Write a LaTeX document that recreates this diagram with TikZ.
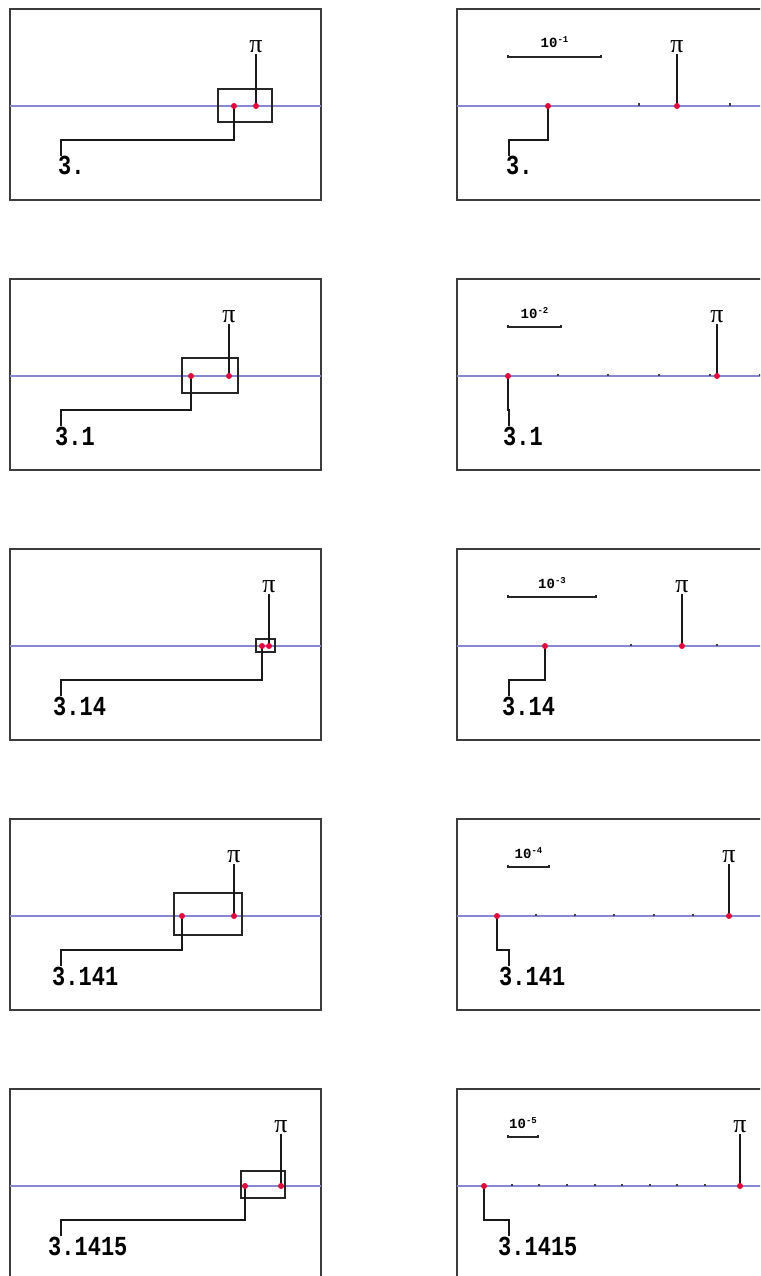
\documentclass[tikz,border=0pt]{standalone}
\usepackage{fontspec}
\usepackage{graphicx}
\newfontfamily\numfont{Liberation Mono}
\newfontfamily\greekfont{Liberation Serif}

\definecolor{framegray}{RGB}{60,60,60}
\definecolor{axisblue}{RGB}{135,135,210}
\definecolor{dotred}{RGB}{225,10,60}

\newcommand\tallnum[1]{\scalebox{1}[1.25]{#1}}

\tikzset{
  frame/.style={draw=framegray, line width=1.4pt},
  axis/.style={draw=axisblue, line width=1.3pt},
  zoombox/.style={draw=black!85, line width=1.4pt},
  leader/.style={draw=black!90, line width=1.3pt},
  dot/.style={circle, fill=dotred, inner sep=0pt, minimum size=6pt},
  tickmark/.style={draw=black!75, line width=1.2pt},
  scalebar/.style={draw=black!85, line width=1.3pt},
  pilab/.style={inner sep=1pt, font=\greekfont\fontsize{26}{26}\selectfont},
  numlab/.style={inner sep=0pt, anchor=base west, font=\numfont\bfseries\fontsize{22}{22}\selectfont},
  scalelab/.style={inner sep=0pt, anchor=base, font=\numfont\bfseries\fontsize{14}{14}\selectfont},
}

% left column: whole line with the zoom window around the two points
% #1 row, #2-#5 window corners, #6 approximation x, #7 pi x, #8 digits, #9 digits left x
\newcommand\drawleftpanel[9]{%
  \begin{scope}[yshift={-(#1-1)*270pt}]
    \draw[frame] (10,9) rectangle (321,200);
    \draw[axis] (10,106) -- (321,106);
    \draw[zoombox] (#2,#3) rectangle (#4,#5);
    \coordinate (La#1) at (#6,106);
    \coordinate (Lp#1) at (#7,106);
    \coordinate (Lk#1) at (61,140);
    \node[pilab] (Lpl#1) at (#7,47) {π};
    \node[numlab] (Ln#1) at (#9,175) {\tallnum{#8}};
    \draw[leader] (Lpl#1.south) -- (Lp#1);
    \draw[leader] (La#1) |- (Lk#1) -- (Lk#1 |- Ln#1.north);
    \node[dot] (Lda#1) at (La#1) {};
    \node[dot] (Ldp#1) at (Lp#1) {};
  \end{scope}}

% right column: magnified view with scale bar and ticks
% #1 row, #2 scale bar end x, #3 exponent, #4 approximation x, #5 pi x,
% #6 tick list, #7 digits, #8 digits left x
\newcommand\drawrightpanel[8]{%
  \begin{scope}[yshift={-(#1-1)*270pt}]
    \draw[frame] (457,9) rectangle (770,200);
    \draw[axis] (457,106) -- (770,106);
    \foreach \t in {#6} \draw[tickmark] (\t,103.5) -- (\t,106);
    \coordinate (Rb#1) at (508,57);
    \coordinate (Re#1) at (#2,57);
    \draw[scalebar] (508,55) -- (Rb#1) -- (Re#1) -- (#2,55);
    \node[scalelab] (Rs#1) at ({(508+#2)/2},48) {10\raisebox{5pt}{\fontsize{9}{9}\selectfont-#3}};
    \coordinate (Ra#1) at (#4,106);
    \coordinate (Rp#1) at (#5,106);
    \coordinate (Rk#1) at (509,140);
    \node[pilab] (Rpl#1) at (#5,47) {π};
    \node[numlab] (Rn#1) at (#8,175) {\tallnum{#7}};
    \draw[leader] (Rpl#1.south) -- (Rp#1);
    \draw[leader] (Ra#1) |- (Rk#1) -- (Rk#1 |- Rn#1.north);
    \node[dot] (Rda#1) at (Ra#1) {};
    \node[dot] (Rdp#1) at (Rp#1) {};
  \end{scope}}

\begin{document}
\begin{tikzpicture}[x=1pt,y=-1pt]
  \clip (0,0) rectangle (760,1276);
  \fill[white] (0,0) rectangle (760,1276);

  \drawleftpanel{1}{218}{89}{272}{122}{234}{256}{3.}{58}
  \drawleftpanel{2}{182}{88}{238}{123}{191}{229}{3.1}{55}
  \drawleftpanel{3}{256}{99}{275}{112}{262}{269}{3.14}{53}
  \drawleftpanel{4}{174}{83}{242}{125}{182}{234}{3.141}{52}
  \drawleftpanel{5}{241}{91}{285}{118}{245}{281}{3.1415}{48}

  \drawrightpanel{1}{601}{1}{548}{677}{639,730}{3.}{506}
  \drawrightpanel{2}{561}{2}{508}{717}{558,608,659,710,760}{3.1}{503}
  \drawrightpanel{3}{596}{3}{545}{682}{631,717}{3.14}{502}
  \drawrightpanel{4}{549}{4}{497}{729}{536,575,614,654,693}{3.141}{499}
  \drawrightpanel{5}{538}{5}{484}{740}{512,539,567,595,622,650,677,705}{3.1415}{498}
\end{tikzpicture}
\end{document}
